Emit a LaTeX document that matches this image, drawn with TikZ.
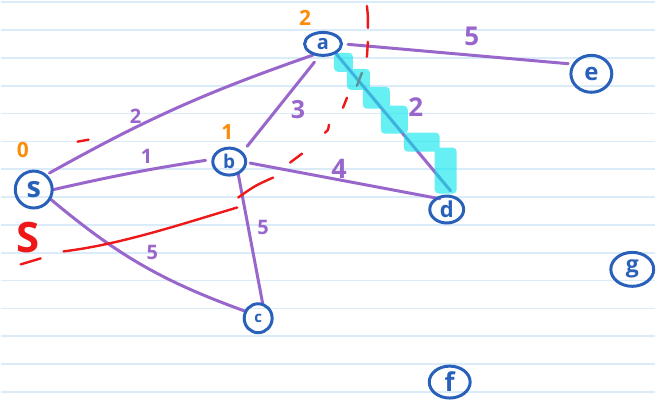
\documentclass[tikz,border=0pt]{standalone}
\usepackage{fontspec}
\setmainfont{Open Sans}
\usetikzlibrary{shapes.geometric}
\definecolor{nodeblue}{RGB}{40,96,186}
\definecolor{edgepurple}{RGB}{153,102,204}
\definecolor{distorange}{RGB}{250,140,10}
\definecolor{cutred}{RGB}{238,24,24}
\definecolor{hilite}{RGB}{0,230,235}
\definecolor{ruleblue}{RGB}{218,236,250}
\pgfdeclarelayer{paper}
\pgfdeclarelayer{wires}
\pgfdeclarelayer{marker}
\pgfsetlayers{paper,wires,marker,main}
% handwritten-looking labels: bold face at a given size
\newcommand{\fs}[1]{\fontsize{#1}{#1}\selectfont\bfseries}
\begin{document}
\begin{tikzpicture}[x=1pt,y=-1pt,
  vertex/.style={ellipse,draw=nodeblue,line width=3pt,inner sep=0pt,text=nodeblue},
  edge/.style={draw=edgepurple,line width=3pt,line cap=round},
  weight/.style={text=edgepurple,inner sep=0pt},
  dist/.style={text=distorange,inner sep=0pt},
  cut/.style={draw=cutred,line width=2.4pt,line cap=round,line join=round},
  ruling/.style={draw=ruleblue,line width=1.6pt}]

% lined paper
\begin{pgfonlayer}{paper}
  \fill[white] (0,0) rectangle (656,402);
  \foreach \k in {0,...,14}
    \draw[ruling] (0,2.3+27.9*\k) -- (656,2.3+27.9*\k);
\end{pgfonlayer}
\useasboundingbox (0,0) rectangle (656,402);

% vertices
\node[vertex,minimum width=37pt,minimum height=37pt,font=\fs{29}] (s) at (33,190) {s};
\node[vertex,minimum width=37pt,minimum height=23pt,font=\fs{20}] (a) at (323,44) {a};
\node[vertex,minimum width=33pt,minimum height=27pt,font=\fs{19}] (b) at (229,162) {b};
\node[vertex,minimum width=28pt,minimum height=29pt,font=\fs{15}] (c) at (258,319) {c};
\node[vertex,minimum width=34pt,minimum height=27pt,font=\fs{22}] (d) at (447,210) {d};
\node[vertex,minimum width=41pt,minimum height=37pt,font=\fs{24}] (e) at (592,74) {e};
\node[vertex,minimum width=41pt,minimum height=32pt,font=\fs{26}] (f) at (450,383) {f};
\node[vertex,minimum width=43pt,minimum height=34pt,font=\fs{23}] (g) at (633,270) {g};

% weighted edges
\begin{pgfonlayer}{wires}
  \draw[edge,shorten <=3pt] (s.49) to[bend left=5] (a.228);
  \draw[edge,shorten >=6pt] (s.0) to[bend left=2] (b.173);
  \draw[edge] (s.-30) to[bend right=10] (c.152);
  \draw[edge,shorten <=7pt,shorten >=7pt] (a.252) -- (b.36);
  \draw[edge] (b.-55) -- (c.74);
  \draw[edge,shorten <=3pt,shorten >=-5pt] (b.-3) -- (d.135);
  \draw[edge,shorten >=7pt] (a.-37) -- (d.58.6);
  \draw[edge,shorten <=5pt,shorten >=4pt] (a.0) -- (e.153);

  % the cut
  \draw[cut] (367,6) .. controls (368,15) .. (368,28);
  \draw[cut] (368,42) -- (367,57);
  \draw[cut] (357,86) .. controls (359,79) .. (362,73);
  \draw[cut] (343,108) -- (347,98);
  \draw[cut] (325,133) .. controls (328,131) .. (329,125);
  \draw[cut] (290,163) -- (302,154);
  \draw[cut] (238,198) .. controls (255,186) .. (273,178);
  \draw[cut] (63,252) .. controls (120,245) and (180,225) .. (237,208);
  \draw[cut] (77,142) -- (88,140);
  \draw[cut] (20,265) -- (40,259);
\end{pgfonlayer}

% highlighted shortest edge
\begin{pgfonlayer}{marker}
  \fill[hilite,fill opacity=0.6,rounded corners=4pt]
    (334,53) rectangle (353,72)
    (347,69) rectangle (370,90)
    (363,87) rectangle (390,109)
    (381,106) rectangle (408,134)
    (404,133) rectangle (440,152)
    (435,148) rectangle (457,194);
\end{pgfonlayer}

% edge weights
\node[weight,font=\fs{20}] (wsa) at (135,117) {2};
\node[weight,font=\fs{20}] (wsb) at (146,157) {1};
\node[weight,font=\fs{25}] (wab) at (298,110) {3};
\node[weight,font=\fs{27}] (wbd) at (339,169) {4};
\node[weight,font=\fs{26}] (wad) at (416,107) {2};
\node[weight,font=\fs{26}] (wae) at (472,36) {5};
\node[weight,font=\fs{20}] (wsc) at (152,253) {5};
\node[weight,font=\fs{20}] (wbc) at (263,228) {5};

% distance labels
\node[dist,font=\fs{21}] (ds) at (22,150) {0};
\node[dist,font=\fs{21}] (da) at (305,18) {2};
\node[dist,font=\fs{21}] (db) at (227,132) {1};

% cut set label
\node[text=cutred,inner sep=0pt,font=\fs{42}] (cutS) at (27,238) {S};
\end{tikzpicture}
\end{document}
